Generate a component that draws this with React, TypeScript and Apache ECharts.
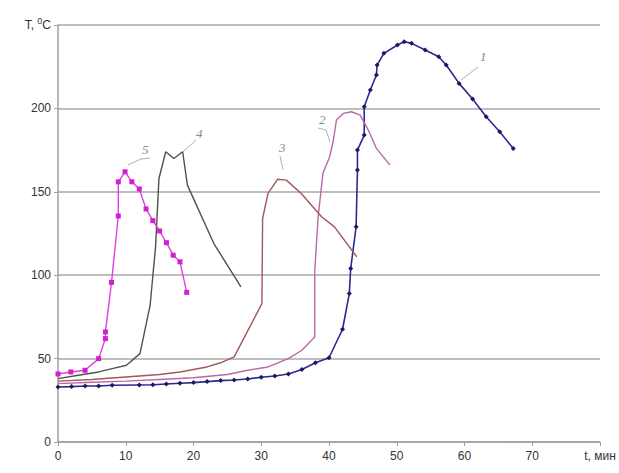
import React, { useEffect, useRef } from "react";
import * as echarts from "echarts";

// [t, T] pairs
const series1: number[][] = [
  [0, 33], [2, 33.2], [4, 33.6], [6, 33.6], [8, 34], [12, 34.2], [14, 34.3], [16, 34.8],
  [18, 35.2], [20, 35.6], [22, 36.2], [24, 36.8], [26, 37.2], [28, 37.8], [30, 38.8],
  [32, 39.6], [34, 40.8], [36, 43.5], [38, 47.5], [40, 50.5], [42, 67.6], [43, 89],
  [43.2, 104], [44, 129], [44.2, 163], [44.2, 175], [45.2, 184], [45.2, 201], [46.1, 211],
  [47, 220], [47.1, 226], [48.1, 233], [50.1, 238], [51.1, 240], [52.2, 239], [54.2, 235],
  [56.2, 231], [57.3, 226], [59.2, 215], [61.2, 205.6], [63.2, 195], [65.2, 186], [67.2, 176],
];
const series2: number[][] = [
  [0, 35], [5, 35.8], [10, 36.5], [15, 37.5], [20, 38.5], [25, 40.5], [28, 43], [31, 45],
  [34, 50], [36, 55], [37.9, 63], [37.9, 103], [38.4, 135], [39.1, 161], [40.1, 171],
  [40.6, 180], [41.1, 193], [42.1, 197], [43.3, 198], [44.6, 196], [45.8, 187], [47, 176],
  [49, 166],
];
const series3: number[][] = [
  [0, 36.5], [5, 37.5], [10, 39], [15, 40.5], [18, 42], [22, 45], [24, 47.5], [26, 51],
  [30.1, 83], [30.2, 134], [31, 149], [32.4, 157.5], [33.7, 157], [35.9, 149], [38.9, 135],
  [40.8, 129], [44.1, 111],
];
const series4: number[][] = [
  [0, 38], [3, 40], [6, 42], [8, 44], [10.1, 46], [12.1, 53], [13.6, 82], [14.4, 117],
  [14.9, 158], [15.9, 174], [17.1, 170], [18.4, 174], [19.1, 154], [23, 119], [27, 93],
];
const series5: number[][] = [
  [0, 40.8], [1.9, 42], [4, 43], [6, 50], [7, 62], [7, 66], [7.9, 95.7], [8.9, 135.5],
  [8.9, 156], [9.9, 162], [10.9, 156], [12, 151.7], [13, 139.7], [14, 132.7], [15, 126.5],
  [16, 119.5], [17, 112], [18, 108], [19, 89.7],
];

const curveLabels = ["1", "2", "3", "4", "5"];
const xMax = 80;
const yMax = 250;

export default function App() {
  const ref = useRef<HTMLDivElement>(null);
  useEffect(() => {
    if (!ref.current) return;
    const chart = echarts.init(ref.current, null, { renderer: "svg" });
    const labelStyle = { fill: "#8a8a8a", fontSize: 13, fontStyle: "italic", fontFamily: "Liberation Serif" };
    const leader = { stroke: "#b0b0b0", lineWidth: 1 };
    chart.setOption({
      animation: false,
      backgroundColor: "#ffffff",
      grid: { left: 58, right: 19, top: 25, bottom: 31, containLabel: false },
      xAxis: {
        type: "value",
        min: 0,
        max: xMax,
        interval: 10,
        axisLine: { lineStyle: { color: "#a0a0a0", width: 1.5 } },
        axisTick: { show: true, length: 4, lineStyle: { color: "#a0a0a0" } },
        splitLine: { show: false },
        axisLabel: {
          color: "#333",
          fontSize: 12,
          fontFamily: "Liberation Sans",
          margin: 8,
          formatter: (v: number) => (v === xMax ? "t, мин" : String(v)),
        },
      },
      yAxis: {
        type: "value",
        min: 0,
        max: yMax,
        interval: 50,
        axisLine: { show: true, lineStyle: { color: "#a0a0a0", width: 1.5 } },
        axisTick: { show: true, length: 4, lineStyle: { color: "#a0a0a0" } },
        splitLine: { show: true, lineStyle: { color: "#a8a8a8", width: 1.5 } },
        axisLabel: {
          color: "#333",
          fontSize: 12,
          fontFamily: "Liberation Sans",
          margin: 7,
          formatter: (v: number) => (v === yMax ? "T, {sup|0}C" : String(v)),
          rich: {
            sup: { fontSize: 9, color: "#333", fontFamily: "Liberation Sans", padding: [0, 0, 8, 0] },
          },
        },
      },
      series: [
        {
          name: curveLabels[0], type: "line", data: series1, symbol: "diamond", symbolSize: 5,
          lineStyle: { color: "#2a2a90", width: 1.6 }, itemStyle: { color: "#1a1a60" },
        },
        {
          name: curveLabels[1], type: "line", data: series2, symbol: "none",
          lineStyle: { color: "#b868a8", width: 1.4 },
        },
        {
          name: curveLabels[2], type: "line", data: series3, symbol: "none",
          lineStyle: { color: "#a05858", width: 1.4 },
        },
        {
          name: curveLabels[3], type: "line", data: series4, symbol: "none",
          lineStyle: { color: "#4a544a", width: 1.4 },
        },
        {
          name: curveLabels[4], type: "line", data: series5, symbol: "rect", symbolSize: 5,
          lineStyle: { color: "#e040e0", width: 1.4 }, itemStyle: { color: "#d020d0" },
        },
      ],
      graphic: [
        { type: "text", left: 480, top: 50, style: { ...labelStyle, text: curveLabels[0] } },
        { type: "line", shape: { x1: 478, y1: 67, x2: 461, y2: 80 }, style: leader },
        { type: "text", left: 319, top: 113, style: { ...labelStyle, text: curveLabels[1] } },
        { type: "polyline", shape: { points: [[318, 128], [326, 130], [330, 142]] }, style: leader },
        { type: "text", left: 279, top: 141, style: { ...labelStyle, text: curveLabels[2] } },
        { type: "line", shape: { x1: 280, y1: 156, x2: 283, y2: 170 }, style: leader },
        { type: "text", left: 196, top: 127, style: { ...labelStyle, text: curveLabels[3] } },
        { type: "line", shape: { x1: 196, y1: 140, x2: 183, y2: 152 }, style: leader },
        { type: "text", left: 142, top: 143, style: { ...labelStyle, text: curveLabels[4] } },
        { type: "polyline", shape: { points: [[150, 158], [141, 159], [128, 165]] }, style: leader },
      ],
    });
    return () => chart.dispose();
  }, []);
  return (
    <div
      ref={ref}
      style={{ position: "absolute", left: 0, top: 0, width: 619, height: 473, background: "#fff" }}
    />
  );
}
